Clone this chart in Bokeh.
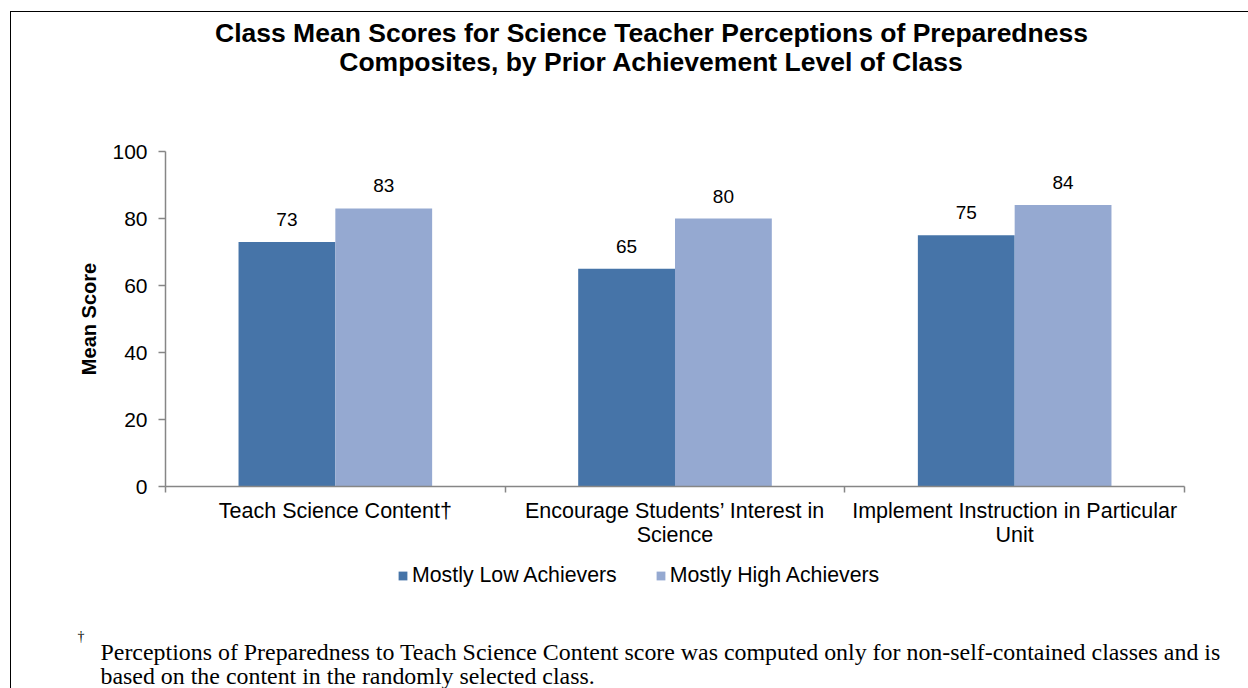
from bokeh.plotting import figure
from bokeh.models import (ColumnDataSource, Range1d, FixedTicker, LabelSet, Label,
                          Legend, LegendItem)
from bokeh.layouts import column
from bokeh.core.properties import value
from bokeh.embed import file_html
from bokeh.resources import INLINE

# ---- data ----
categories = ["Teach Science Content\u2020",
              "Encourage Students\u2019 Interest in\nScience",
              "Implement Instruction in Particular\nUnit"]
series_names = ["Mostly Low Achievers", "Mostly High Achievers"]
low_values = [73, 65, 75]
high_values = [83, 80, 84]
y_ticks = [0, 20, 40, 60, 80, 100]

title_lines = ["Class Mean Scores for Science Teacher Perceptions of Preparedness",
               "Composites, by Prior Achievement Level of Class"]
y_label = "Mean Score"
footnote_mark = "\u2020"
footnote_lines = ["Perceptions of Preparedness to Teach Science Content score was computed only for non-self-contained classes and is",
                  "based on the content in the randomly selected class."]

# ---- styles ----
LOW_COLOR = "#4674A8"
HIGH_COLOR = "#95A9D1"
AXIS_COLOR = "#868686"
SANS = "Liberation Sans"
SERIF = "Liberation Serif"
BAR_W = 0.285
W = 1237


def blank_fig(h, yr=(0, 1)):
    f = figure(width=W, height=h, min_border=0, x_range=Range1d(0, 1),
               y_range=Range1d(*yr), x_axis_location=None, y_axis_location=None,
               output_backend="svg", toolbar_location=None, tools="", title=None)
    f.frame_align = False
    f.outline_line_color = None
    f.xgrid.grid_line_color = None
    f.ygrid.grid_line_color = None
    f.border_fill_color = "white"
    f.background_fill_color = "white"
    return f


# ---- title figure ----
pt = blank_fig(118)
for txt, yy in zip(title_lines, [98, 69]):
    pt.add_layout(Label(x=640, y=yy, x_units="screen", y_units="screen", text=txt,
                        text_align="center", text_baseline="alphabetic",
                        text_font=SANS, text_font_size="26.5px",
                        text_font_style="bold", text_color="#000000"))

# ---- main chart ----
n = len(categories)
centers = [i + 0.5 for i in range(n)]
src_low = ColumnDataSource(dict(x=[c - BAR_W / 2 for c in centers], y=low_values,
                                lab=[str(v) for v in low_values]))
src_high = ColumnDataSource(dict(x=[c + BAR_W / 2 for c in centers], y=high_values,
                                 lab=[str(v) for v in high_values]))

p = figure(frame_width=1019, frame_height=335,
           min_border_left=154, min_border_right=64,
           min_border_top=21, min_border_bottom=69,
           x_range=Range1d(0, n), y_range=Range1d(0, 100),
           output_backend="svg", toolbar_location=None, tools="", title=None)
p.frame_align = False
p.outline_line_color = None
p.xgrid.grid_line_color = None
p.ygrid.grid_line_color = None
p.background_fill_color = "white"
p.border_fill_color = "white"

r_low = p.vbar(x="x", top="y", width=BAR_W, source=src_low,
               fill_color=LOW_COLOR, line_color=None)
r_high = p.vbar(x="x", top="y", width=BAR_W, source=src_high,
                fill_color=HIGH_COLOR, line_color=None)

for src in (src_low, src_high):
    p.add_layout(LabelSet(x="x", y="y", text="lab", source=src, text_align="center",
                          text_baseline="alphabetic", y_offset=16,
                          text_font=value(SANS), text_font_size="19px",
                          text_color="#000000"))

xa = p.xaxis[0]
xa.ticker = FixedTicker(ticks=centers, minor_ticks=list(range(n + 1)))
xa.major_label_overrides = {c: lab for c, lab in zip(centers, categories)}
xa.major_tick_out = 0
xa.major_tick_in = 0
xa.minor_tick_out = 6
xa.minor_tick_in = 0
xa.minor_tick_line_color = AXIS_COLOR
xa.axis_line_color = AXIS_COLOR
xa.axis_line_width = 1.5
xa.minor_tick_line_width = 1.5
xa.major_label_standoff = 6
xa.major_label_text_font = SANS
xa.major_label_text_font_size = "21.5px"
xa.major_label_text_color = "#000000"
xa.major_label_text_line_height = 1.03
xa.major_label_orientation = "horizontal"

ya = p.yaxis[0]
ya.ticker = FixedTicker(ticks=y_ticks)
ya.major_tick_out = 7
ya.major_tick_in = 0
ya.minor_tick_line_color = None
ya.axis_line_color = AXIS_COLOR
ya.axis_line_width = 1.5
ya.major_tick_line_color = AXIS_COLOR
ya.major_tick_line_width = 1.5
ya.major_label_standoff = 11
ya.major_label_text_font = SANS
ya.major_label_text_font_size = "21px"
ya.major_label_text_color = "#000000"
ya.axis_label = y_label
ya.axis_label_text_font = SANS
ya.axis_label_text_font_size = "20px"
ya.axis_label_text_font_style = "bold"
ya.axis_label_text_color = "#000000"
ya.axis_label_standoff = 9

# ---- bottom: legend + footnote ----
# swatch renderers reuse the series data; the y range keeps the bars out of view
pb = blank_fig(133, yr=(1000, 1001))
sw_low = pb.vbar(x="x", top="y", width=BAR_W, source=src_low,
                 fill_color=LOW_COLOR, line_color=None)
sw_high = pb.vbar(x="x", top="y", width=BAR_W, source=src_high,
                  fill_color=HIGH_COLOR, line_color=None)
legend = Legend(items=[LegendItem(label=series_names[0], renderers=[sw_low]),
                       LegendItem(label=series_names[1], renderers=[sw_high])],
                orientation="horizontal", location=(386, 100),
                glyph_width=11, glyph_height=11, label_standoff=4, spacing=38,
                padding=0, margin=0, border_line_color=None,
                background_fill_alpha=0, label_text_font=SANS,
                label_text_font_size="21.3px", label_text_color="#000000",
                label_height=21)
pb.add_layout(legend, "center")

pb.add_layout(Label(x=66, y=52, x_units="screen", y_units="screen", text=footnote_mark,
                    text_align="left", text_baseline="alphabetic",
                    text_font=SERIF, text_font_size="14px", text_color="#000000"))
for txt, yy in zip(footnote_lines, [37, 13]):
    pb.add_layout(Label(x=89, y=yy, x_units="screen", y_units="screen", text=txt,
                        text_align="left", text_baseline="alphabetic",
                        text_font=SERIF, text_font_size="23.9px", text_color="#000000"))

layout = column(pt, p, pb, spacing=0)
layout.styles = {"margin-left": "10px", "margin-top": "11px",
                 "border-left": "1px solid #000000", "border-top": "1px solid #000000"}

open("out.html", "w").write(file_html(layout, INLINE))
